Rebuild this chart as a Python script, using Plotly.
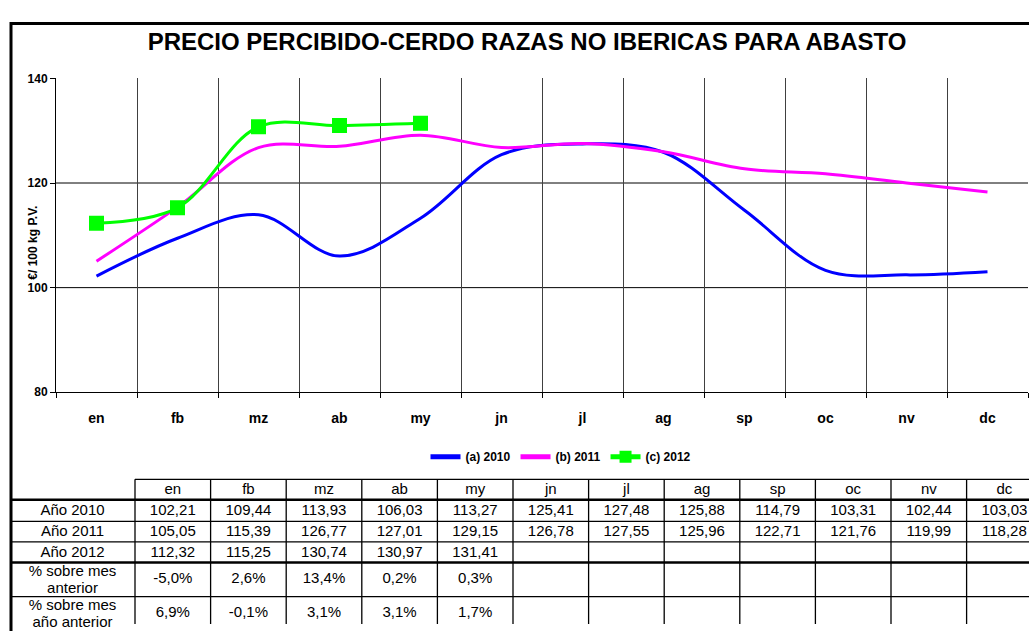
import plotly.graph_objects as go

W, H = 1029, 631
FONT = "Arial, Liberation Sans, sans-serif"

# ---- data ----
months = ["en", "fb", "mz", "ab", "my", "jn", "jl", "ag", "sp", "oc", "nv", "dc"]
y2010 = [102.21, 109.44, 113.93, 106.03, 113.27, 125.41, 127.48, 125.88, 114.79, 103.31, 102.44, 103.03]
y2011 = [105.05, 115.39, 126.77, 127.01, 129.15, 126.78, 127.55, 125.96, 122.71, 121.76, 119.99, 118.28]
y2012 = [112.32, 115.25, 130.74, 130.97, 131.41]
pct_prev_month = [-5.0, 2.6, 13.4, 0.2, 0.3]
pct_prev_year = [6.9, -0.1, 3.1, 3.1, 1.7]
y_ticks = [80, 100, 120, 140]
series_names = ["(a) 2010", "(b) 2011", "(c) 2012"]
row_labels = ["Año 2010", "Año 2011", "Año 2012", "% sobre mes<br>anterior", "% sobre mes<br>año anterior"]

# ---- layout constants (pixels) ----
PLOT_L, PLOT_R, PLOT_T, PLOT_B = 56, 1028, 73, 394
TABLE_TOP = 480          # top of the table subplot
LABEL_X0 = 10           # left edge of the row-label column
COL_X0 = 135            # left edge of the first month column
COL_W = 75.6            # month column width
ROW_H = [21, 22, 21, 21, 35, 35]   # header, 2010, 2011, 2012, % mes, % año
HEAD_OFF = 3            # header top line offset inside the table subplot
LINE_GAP = 17           # spacing of wrapped label lines


def px_x(p):
    return p / W


def px_y(p):
    return 1 - p / H


def fmt_num(v):
    return f"{v:.2f}".replace(".", ",")


def fmt_pct(v):
    return f"{v:.1f}".replace(".", ",") + "%"


fig = go.Figure()

# ---- price lines ----
colors = ["#0000FF", "#FF00FF", "#00FF00"]
for name, ys, col in zip(series_names, [y2010, y2011, y2012], colors):
    is_2012 = ys is y2012
    fig.add_trace(go.Scatter(
        x=months[:len(ys)], y=ys, name=name,
        mode="lines+markers" if is_2012 else "lines",
        line=dict(color=col, width=3, shape="spline", smoothing=1),
        marker=dict(symbol="square", size=15, color=col) if is_2012 else None,
        xaxis="x", yaxis="y",
    ))

# horizontal grid lines at the inner tick values
for v in y_ticks[1:-1]:
    fig.add_hline(y=v, line=dict(color="black", width=1), layer="below")

# ---- data table (own subplot: x in columns, y in pixels from TABLE_TOP) ----
bounds = [HEAD_OFF]
for h in ROW_H:
    bounds.append(bounds[-1] + h)
x_left = (LABEL_X0 - COL_X0) / COL_W
n_cols = len(months)

line_thin = dict(color="black", width=1.3)
line_thick = dict(color="black", width=2.5)

# header top line (months only)
fig.add_shape(type="line", xref="x2", yref="y2", x0=0, x1=n_cols + 1,
              y0=bounds[0], y1=bounds[0], line=line_thin)
# row separators
for i, yb in enumerate(bounds[1:-1], start=1):
    fig.add_shape(type="line", xref="x2", yref="y2", x0=x_left, x1=n_cols + 1,
                  y0=yb, y1=yb, line=line_thick if i in (1, 4) else line_thin)
# column separators
for c in range(n_cols + 1):
    fig.add_shape(type="line", xref="x2", yref="y2", x0=c, x1=c,
                  y0=bounds[0], y1=bounds[-1] + 20, line=line_thin)

centers = [(bounds[i] + bounds[i + 1]) / 2 for i in range(len(ROW_H))]
col_centers = [c + 0.5 for c in range(n_cols)]
tfont = dict(family=FONT, size=15, color="black")


def text_row(xs, y, texts):
    ys = y if isinstance(y, list) else [y] * len(xs)
    fig.add_trace(go.Scatter(
        x=xs, y=ys, text=texts, mode="text", textfont=tfont,
        textposition="middle center", cliponaxis=False, showlegend=False,
        hoverinfo="skip", xaxis="x2", yaxis="y2",
    ))


text_row(col_centers, centers[0] + 1, months)
text_row(col_centers[:len(y2010)], centers[1] + 1, [fmt_num(v) for v in y2010])
text_row(col_centers[:len(y2011)], centers[2] + 1, [fmt_num(v) for v in y2011])
text_row(col_centers[:len(y2012)], centers[3] + 1, [fmt_num(v) for v in y2012])
text_row(col_centers[:len(pct_prev_month)], centers[4], [fmt_pct(v) for v in pct_prev_month])
text_row(col_centers[:len(pct_prev_year)], centers[5], [fmt_pct(v) for v in pct_prev_year])

# row labels; wrapped labels are laid out one line at a time
label_x = x_left / 2
for i, lab in enumerate(row_labels):
    parts = lab.split("<br>")
    if len(parts) == 1:
        text_row([label_x], centers[i + 1] + 1, parts)
    else:
        top = centers[i + 1] - LINE_GAP / 2 + 1
        text_row([label_x] * len(parts),
                 [top + k * LINE_GAP for k in range(len(parts))], parts)

# ---- outer frame ----
fig.add_shape(type="rect", xref="paper", yref="paper",
              x0=px_x(LABEL_X0 + 1), x1=px_x(W + 20),
              y0=px_y(H + 20), y1=px_y(17),
              line=dict(color="black", width=3), layer="above")

# ---- axis title ----
fig.add_annotation(text="€/ 100 kg P.V.", textangle=-90, xref="paper", yref="paper",
                   x=px_x(24), y=px_y(241), showarrow=False,
                   font=dict(family=FONT, size=12, color="black", weight="bold"))

fig.update_layout(
    width=W, height=H, autosize=False,
    margin=dict(l=0, r=0, t=0, b=0, pad=0),
    paper_bgcolor="white", plot_bgcolor="white",
    font=dict(family=FONT, color="black"),
    title=dict(text="PRECIO PERCIBIDO-CERDO RAZAS NO IBERICAS PARA ABASTO",
               x=px_x(527), y=px_y(35), xanchor="center", yanchor="middle",
               xref="paper", yref="paper",
               font=dict(family=FONT, size=24, color="black", weight="bold")),
    xaxis=dict(domain=[px_x(PLOT_L), px_x(PLOT_R)], type="category",
               categoryorder="array", categoryarray=months,
               range=[-0.5, len(months) - 0.5], tickson="boundaries",
               showgrid=True, gridcolor="#404040", gridwidth=1,
               ticks="outside", ticklen=5, tickcolor="black", tickwidth=1,
               showline=True, linecolor="black", linewidth=1,
               ticklabelstandoff=13,
               tickfont=dict(family=FONT, size=14, color="black", weight="bold"),
               fixedrange=True, anchor="y", zeroline=False),
    yaxis=dict(domain=[px_y(PLOT_B), px_y(PLOT_T)], range=[y_ticks[0], y_ticks[-1]],
               tickvals=y_ticks, showgrid=False, zeroline=False,
               ticks="outside", ticklen=5, tickcolor="black", tickwidth=1,
               showline=True, linecolor="black", linewidth=1,
               tickfont=dict(family=FONT, size=12, color="black", weight="bold"),
               fixedrange=True, anchor="x"),
    xaxis2=dict(domain=[0, 1], range=[-COL_X0 / COL_W, (W - COL_X0) / COL_W],
                visible=False, fixedrange=True, anchor="y2"),
    yaxis2=dict(domain=[0, px_y(TABLE_TOP)], range=[H - TABLE_TOP, 0],
                visible=False, fixedrange=True, anchor="x2"),
    legend=dict(orientation="h", x=px_x(561), xanchor="center",
                y=px_y(460), yanchor="middle", itemsizing="constant",
                font=dict(family=FONT, size=12, color="black", weight="bold"),
                bgcolor="rgba(0,0,0,0)", itemwidth=30, tracegroupgap=0),
    showlegend=True,
)

fig.write_html("out.html")
